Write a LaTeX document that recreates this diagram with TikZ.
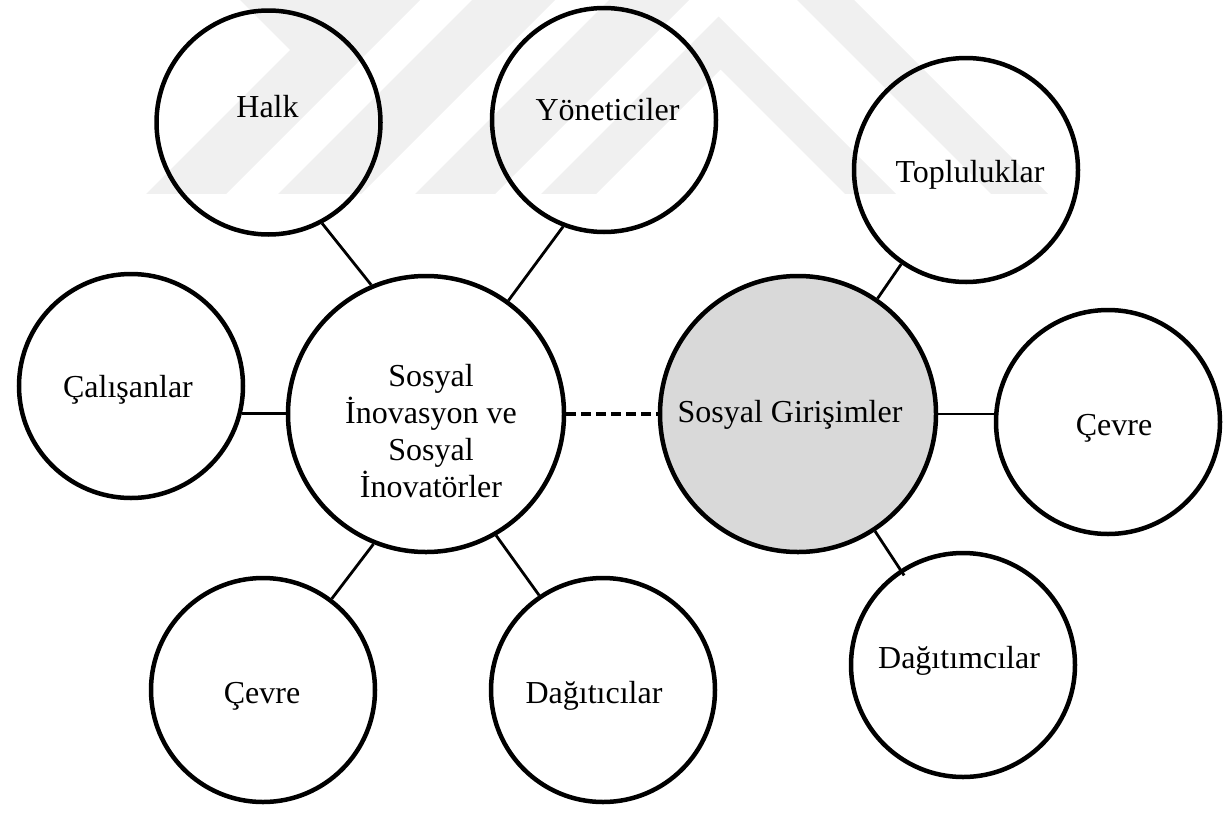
\documentclass[tikz,border=0pt]{standalone}
\usepackage{fontspec}
\setmainfont{Liberation Serif}
\definecolor{wm}{RGB}{240,240,240}
\definecolor{hubfill}{RGB}{217,217,217}
\begin{document}
\begin{tikzpicture}[x=1pt,y=-1pt,
  ring/.style={circle,draw=black,line width=4.5pt,minimum size=224pt,inner sep=0pt},
  hub/.style={ring,minimum size=276pt},
  word/.style={font=\fontsize{32}{36.7}\selectfont,inner sep=0pt,anchor=base,align=center},
  link/.style={line width=2.8pt},
  dashlink/.style={line width=4pt,dash pattern=on 10pt off 5pt}]

\useasboundingbox (0,0) rectangle (1225,814);

% faint striped background mark along the top edge
\begin{scope}
  \clip (0,0) rectangle (1225,193);
  \fill[wm] (137,203) -- (290,50) -- (230,-10) -- (430,-10) -- (217,203) -- cycle;
  \fill[wm] (482,-10) -- (565,-10) -- (352,203) -- (269,203) -- cycle;
  \fill[wm] (619,-10) -- (699,-10) -- (486,203) -- (406,203) -- cycle;
  \fill[wm] (532,203) -- (718.5,16.5) -- (905,203) -- (854,203) -- (720.5,69.5) -- (587,203) -- cycle;
  \fill[wm] (787,-10) -- (844,-10) -- (1057,203) -- (1000,203) -- cycle;
\end{scope}

% circles
\node[ring] (halk) at (268.5,122.5) {};
\node[ring] (yon)  at (604,120) {};
\node[ring] (top)  at (966,170) {};
\node[ring] (cal)  at (131,386) {};
\node[hub]  (hub)  at (426,414) {};
\node[hub,fill=hubfill] (gir) at (798,414) {};
\node[ring] (cevR) at (1108,422) {};
\node[ring] (dagR) at (963,665) {};
\node[ring] (cevL) at (263,690) {};
\node[ring] (dagL) at (603,690) {};

% labels (a multi-line label sits on the baseline of its last line)
\node[word] (halkT) at (267.5,117) {Halk};
\node[word] (yonT)  at (607.5,120) {Yöneticiler};
\node[word] (topT)  at (970,182) {Topluluklar};
\node[word] (calT)  at (128,397) {Çalışanlar};
\node[word] (hubT)  at (431,497) {Sosyal\\İnovasyon ve\\Sosyal\\İnovatörler};
\node[word] (girT)  at (790,422) {Sosyal Girişimler};
\node[word] (cevRT) at (1114,435) {Çevre};
\node[word] (dagRT) at (959,668) {Dağıtımcılar};
\node[word] (cevLT) at (262,703) {Çevre};
\node[word] (dagLT) at (594,703) {Dağıtıcılar};

% connectors
\draw[link] (halk.298) -- (hub.113);
\draw[link] (yon.249) -- (hub.54);
\draw[link] (cal.-14) -- (cal.-14 -| hub.west);
\draw[link] (cevL.53) -- (hub.248);
\draw[link] (dagL.124) -- (hub.300);
\draw[link] (top) -- (gir);
\draw[link] (gir.east) -- (gir.east -| cevR.west);
\draw[link,shorten >=-7pt] (gir) -- (dagR);
\draw[dashlink] (hub.east) -- (gir.west);
\end{tikzpicture}
\end{document}
